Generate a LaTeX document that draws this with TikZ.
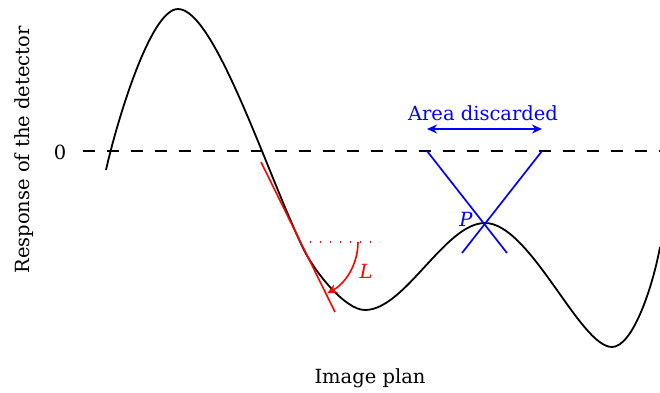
\documentclass[tikz,border=0pt]{standalone}
\usepackage{fontspec}
\setmainfont{DejaVu Serif}
\usetikzlibrary{arrows.meta}
\begin{document}
\begin{tikzpicture}[x=1pt,y=-1pt,
  lbl/.style={font=\fontsize{19.5}{23}\selectfont, inner sep=0pt},
  curve/.style={line width=1.8pt, black},
  zero/.style={line width=1.7pt, dash pattern=on 12pt off 12pt},
  redl/.style={line width=1.6pt, red},
  bluel/.style={line width=1.7pt, blue}]
\useasboundingbox (0,0) rectangle (660,392);
% zero line
\coordinate (z0) at (83,151);
\coordinate (z1) at (660,151);
\draw[zero] (z0) -- (z1);
\node[lbl, anchor=center] (zero) at (60,152) {0};
\node[lbl, rotate=90] (ylab) at (24,150) {Response of the detector};
\node[lbl] (xlab) at (370,378) {Image plan};
% response curve
\draw[curve] (106,170) .. controls (116,125) and (150,9) .. (178,9)
  .. controls (215,9) and (268.6,178) .. (304,250)
  .. controls (315,272) and (345,310) .. (365,310)
  .. controls (405,310) and (445,223) .. (485,223)
  .. controls (530,223) and (580,347) .. (612,347)
  .. controls (632,347) and (652,290) .. (660,247);
% tangent and angle
\coordinate (t0) at (261,162);
\coordinate (t1) at (335,312);
\draw[redl] (t0) -- (t1);
\coordinate (h0) at (310,242);
\coordinate (h1) at (380,242);
\draw[red, line width=1.4pt, dash pattern=on 1.4pt off 8.6pt] (h0) -- (h1);
\coordinate (ac) at (300,242);
\draw[redl, -{Stealth[length=10pt,width=9pt]}] (358,242) arc[start angle=0, end angle=62, radius=58];
\node[lbl, red] (L) at (366,271) {\textit{L}};
% blue construction
\coordinate (b1) at (427,151);
\coordinate (b2) at (507,253);
\coordinate (b3) at (542,151);
\coordinate (b4) at (462,253);
\draw[bluel] (b1) -- (b2);
\draw[bluel] (b3) -- (b4);
\node[lbl, blue, anchor=east] (P) at (473,219) {\textit{P}};
\coordinate (a1) at (427,129);
\coordinate (a2) at (542,129);
\draw[bluel, {Stealth[length=10pt,width=9pt]}-{Stealth[length=10pt,width=9pt]}] (a1) -- (a2);
\node[lbl, blue] (area) at (483,113) {Area discarded};
\end{tikzpicture}
\end{document}
